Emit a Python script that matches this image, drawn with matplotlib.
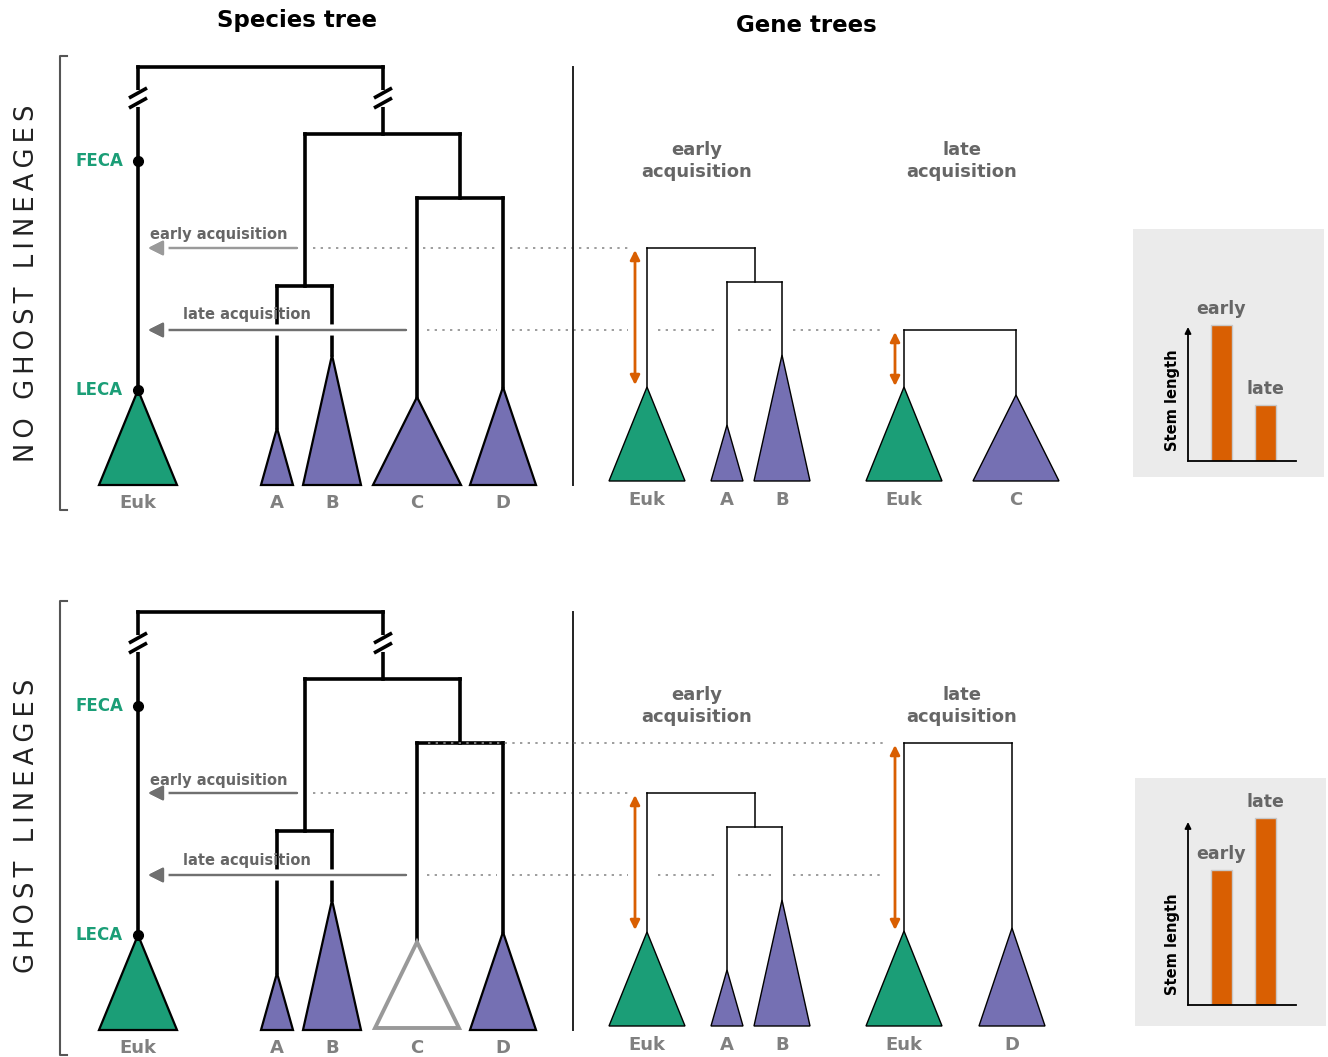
import matplotlib
matplotlib.use('Agg')
import matplotlib.pyplot as plt
import matplotlib.patheffects as pe
from matplotlib.patches import Polygon, Rectangle

# colours
GREEN = '#1b9e77'
PURPLE = '#7570b3'
ORANGE = '#d95f02'
TIP_GRAY = '#808080'
TEXT_GRAY = '#666666'

# canvas is laid out in pixel units of the reference (y grows downwards)
W, H = 1328, 1057
panel_dy = [0, 545]
panel_titles = ['NO GHOST LINEAGES', 'GHOST LINEAGES']
panel_title_y = [283, 826]

# species tree (heights given for the upper panel)
sp_tips = ['Euk', 'A', 'B', 'C', 'D']
sp_tip_x = [138, 277, 332, 417, 503]
sp_tip_apex = [390, 428, 355, 397, 387]
sp_tip_halfw = [39, 16, 29, 44, 33]
sp_base_y = 485
root_y = 67
abcd_y = 134
ab_y = 286
cd_y = 198
feca_y = 161
leca_y = 390
abcd_x = 383
break_y = 98

# horizontal gene transfer heights
early_y = 248
late_y = 330

# gene trees: early acquisition (Euk, A, B)
early_tips = ['Euk', 'A', 'B']
early_tip_x = [647, 727, 782]
early_tip_apex = [387, 425, 355]
early_tip_halfw = [38, 16, 28]
early_ab_y = 282
early_ab_x = 755
gene_base_y = 481

# gene trees: late acquisition, per panel (Euk + C or D)
late_tips = [['Euk', 'C'], ['Euk', 'D']]
late_tip_x = [[904, 1016], [904, 1012]]
late_tip_apex = [[387, 395], [386, 383]]
late_tip_halfw = [[38, 43], [38, 33]]
late_root_y = [late_y, cd_y]

# stem length insets (pixel heights of the bars)
stem_labels = ['early', 'late']
stem_len = [[136, 56], [135, 187]]
inset_box = [(1133, 229, 191, 248), (1135, 778, 191, 248)]
inset_axis_bottom = [461, 1005]
inset_axis_top = [134, 183]

fig = plt.figure(figsize=(W / 100, H / 100), dpi=100)
ax = fig.add_axes([0, 0, 1, 1])
ax.set_xlim(0, W)
ax.set_ylim(H, 0)
ax.axis('off')

THICK = 2.6
THIN = 1.1


def seg(x0, y0, x1, y1, lw=THICK, color='black', z=3):
    ax.plot([x0, x1], [y0, y1], color=color, lw=lw, zorder=z,
            solid_capstyle='projecting')


def tri(x, apex, halfw, base, face, edge='black', lw=1.5, z=4):
    ax.add_patch(Polygon([(x, apex), (x - halfw, base), (x + halfw, base)],
                         closed=True, facecolor=face, edgecolor=edge,
                         lw=lw, zorder=z, joinstyle='miter'))


def dotted(y, spans, z=2):
    for a, b in spans:
        ax.plot([a, b], [y, y], color='#8c8c8c', lw=1.2,
                linestyle=(0, (1.4, 3.2)), zorder=z)


def hgt_arrow(x_tail, x_head, y, color):
    ann = ax.annotate('', xy=(x_head, y), xytext=(x_tail, y),
                      arrowprops=dict(arrowstyle='-|>,head_length=0.5,head_width=0.25',
                                      color=color, lw=1.6,
                                      mutation_scale=18, shrinkA=0, shrinkB=0),
                      zorder=6)
    ann.arrow_patch.set_path_effects([pe.withStroke(linewidth=8, foreground='white'),
                                      pe.Normal()])


def double_arrow(x, y0, y1):
    ax.annotate('', xy=(x, y0), xytext=(x, y1),
                arrowprops=dict(arrowstyle='<|-|>', color=ORANGE, lw=2,
                                mutation_scale=14, shrinkA=0, shrinkB=0),
                zorder=6)


def break_mark(x, y):
    ax.plot([x, x], [y - 5, y + 5], color='white', lw=5, zorder=4)
    for dy in (-5, 5):
        ax.plot([x - 9, x + 9], [y + dy + 5, y + dy - 5], color='black',
                lw=2.6, zorder=5, solid_capstyle='butt')


ax.text(297, 20, 'Species tree', ha='center', va='center',
        fontsize=16.5, fontweight='bold')
ax.text(806, 26, 'Gene trees', ha='center', va='center',
        fontsize=16.5, fontweight='bold')

for p, dy in enumerate(panel_dy):
    ghost = p == 1

    # bracket and panel title
    ax.plot([67, 60, 60, 67], [56 + dy, 56 + dy, 510 + dy, 510 + dy],
            color='#555555', lw=1.5, zorder=2)
    ax.text(27, panel_title_y[p], '\u2009'.join(panel_titles[p]), rotation=90,
            ha='center', va='center', fontsize=18.5, color='#222222')

    # species tree branches
    ex = sp_tip_x
    x_ab = 305
    x_cd = 460
    seg(ex[0], root_y + dy, abcd_x, root_y + dy)
    seg(ex[0], root_y + dy, ex[0], leca_y + dy)
    seg(abcd_x, root_y + dy, abcd_x, abcd_y + dy)
    seg(x_ab, abcd_y + dy, x_cd, abcd_y + dy)
    seg(x_ab, abcd_y + dy, x_ab, ab_y + dy)
    seg(ex[1], ab_y + dy, ex[2], ab_y + dy)
    seg(ex[1], ab_y + dy, ex[1], sp_tip_apex[1] + dy)
    seg(ex[2], ab_y + dy, ex[2], sp_tip_apex[2] + dy)
    seg(x_cd, abcd_y + dy, x_cd, cd_y + dy)
    seg(ex[3], cd_y + dy, ex[4], cd_y + dy)
    seg(ex[3], cd_y + dy, ex[3], sp_tip_apex[3] + dy)
    seg(ex[4], cd_y + dy, ex[4], sp_tip_apex[4] + dy)
    break_mark(ex[0], break_y + dy)
    break_mark(abcd_x, break_y + dy)

    # FECA / LECA
    ax.plot([ex[0], ex[0]], [feca_y + dy, leca_y + dy], 'o', color='black',
            ms=7, zorder=6)
    ax.text(99, feca_y + dy, 'FECA', color=GREEN, fontsize=12,
            fontweight='bold', ha='center', va='center')
    ax.text(99, leca_y + dy, 'LECA', color=GREEN, fontsize=12,
            fontweight='bold', ha='center', va='center')

    # species tree tips (C is a ghost lineage in the lower panel)
    for i, name in enumerate(sp_tips):
        if i == 0:
            tri(ex[i], sp_tip_apex[i] + dy, sp_tip_halfw[i], sp_base_y + dy, GREEN, lw=1.6)
        elif ghost and name == 'C':
            tri(ex[i], sp_tip_apex[i] + dy, sp_tip_halfw[i] - 2, sp_base_y + dy - 2,
                'white', edge='#999999', lw=2.8)
        else:
            tri(ex[i], sp_tip_apex[i] + dy, sp_tip_halfw[i], sp_base_y + dy, PURPLE, lw=1.6)
        ax.text(ex[i], 503 + dy, name, color=TIP_GRAY, fontsize=13,
                fontweight='bold', ha='center', va='center')

    # transfer arrows
    hgt_arrow(297, 148, early_y + dy, '#9a9a9a' if p == 0 else '#707070')
    hgt_arrow(406, 148, late_y + dy, '#707070')
    ax.text(219, early_y - 13 + dy, 'early acquisition', color=TEXT_GRAY,
            fontsize=10.5, fontweight='bold', ha='center', va='center', zorder=8)
    ax.text(247, late_y - 15 + dy, 'late acquisition', color=TEXT_GRAY,
            fontsize=10.5, fontweight='bold', ha='center', va='center', zorder=8)

    # dotted guide lines
    dotted(early_y + dy, [(313, 412), (423, 498), (510, 628)])
    dotted(late_y + dy, [(427, 497), (512, 628), (658, 718), (738, 773), (793, 885)])
    if ghost:
        dotted(cd_y + dy, [(428, 885)], z=4)

    # separator
    ax.plot([573, 573], [67 + dy, 485 + dy], color='#222222', lw=1.4, zorder=2)

    # early acquisition gene tree
    gx = early_tip_x
    ax.text(697, 161 + dy, 'early\nacquisition', color=TEXT_GRAY, fontsize=13,
            fontweight='bold', ha='center', va='center', linespacing=1.25)
    seg(gx[0], early_y + dy, early_ab_x, early_y + dy, lw=THIN, z=5)
    seg(gx[0], early_y + dy, gx[0], early_tip_apex[0] + dy, lw=THIN, z=5)
    seg(early_ab_x, early_y + dy, early_ab_x, early_ab_y + dy, lw=THIN, z=5)
    seg(gx[1], early_ab_y + dy, gx[2], early_ab_y + dy, lw=THIN, z=5)
    seg(gx[1], early_ab_y + dy, gx[1], early_tip_apex[1] + dy, lw=THIN, z=5)
    seg(gx[2], early_ab_y + dy, gx[2], early_tip_apex[2] + dy, lw=THIN, z=5)
    for i, name in enumerate(early_tips):
        tri(gx[i], early_tip_apex[i] + dy, early_tip_halfw[i], gene_base_y + dy,
            GREEN if i == 0 else PURPLE, lw=1.0)
        ax.text(gx[i], 500 + dy, name, color=TIP_GRAY, fontsize=13,
                fontweight='bold', ha='center', va='center')
    double_arrow(635, early_y + 2 + dy, early_tip_apex[0] - 2 + dy)

    # late acquisition gene tree
    lx = late_tip_x[p]
    lr = late_root_y[p]
    ax.text(962, 161 + dy, 'late\nacquisition', color=TEXT_GRAY, fontsize=13,
            fontweight='bold', ha='center', va='center', linespacing=1.25)
    seg(lx[0], lr + dy, lx[1], lr + dy, lw=THIN, z=5)
    for i, name in enumerate(late_tips[p]):
        seg(lx[i], lr + dy, lx[i], late_tip_apex[p][i] + dy, lw=THIN, z=5)
        tri(lx[i], late_tip_apex[p][i] + dy, late_tip_halfw[p][i], gene_base_y + dy,
            GREEN if i == 0 else PURPLE, lw=1.0)
        ax.text(lx[i], 500 + dy, name, color=TIP_GRAY, fontsize=13,
                fontweight='bold', ha='center', va='center')
    double_arrow(895, lr + 2 + dy, late_tip_apex[p][0] - 1 + dy)

    # stem length inset
    bx, by, bw, bh = inset_box[p]
    ax.add_patch(Rectangle((bx, by), bw, bh, facecolor='#ebebeb',
                           edgecolor='none', zorder=1))
    y_axis0 = inset_axis_bottom[p]
    ih = 215
    iax = fig.add_axes([1188 / W, 1 - y_axis0 / H, 110 / W, ih / H])
    iax.set_xlim(0, 110)
    iax.set_ylim(0, ih)
    iax.axis('off')
    iax.patch.set_alpha(0)
    bar_x = [33.5, 77.5]
    iax.bar(bar_x, stem_len[p], width=21, color=ORANGE,
            edgecolor='#c8c8c8', lw=1)
    iax.plot([0, 108], [0, 0], color='black', lw=1.3, clip_on=False)
    iax.annotate('', xy=(0, inset_axis_top[p]), xytext=(0, 0),
                 arrowprops=dict(arrowstyle='-|>', color='black', lw=1.3,
                                 mutation_scale=9, shrinkA=0, shrinkB=0),
                 annotation_clip=False)
    for j, lab in enumerate(stem_labels):
        iax.text(bar_x[j], stem_len[p][j] + 7, lab, color=TEXT_GRAY,
                 fontsize=12.5, fontweight='bold', ha='center', va='bottom',
                 clip_on=False)
    ax.text(1172, y_axis0 - 61, 'Stem length', rotation=90, fontsize=10.5,
            fontweight='bold', ha='center', va='center')

fig.savefig('out.png', dpi=100)
